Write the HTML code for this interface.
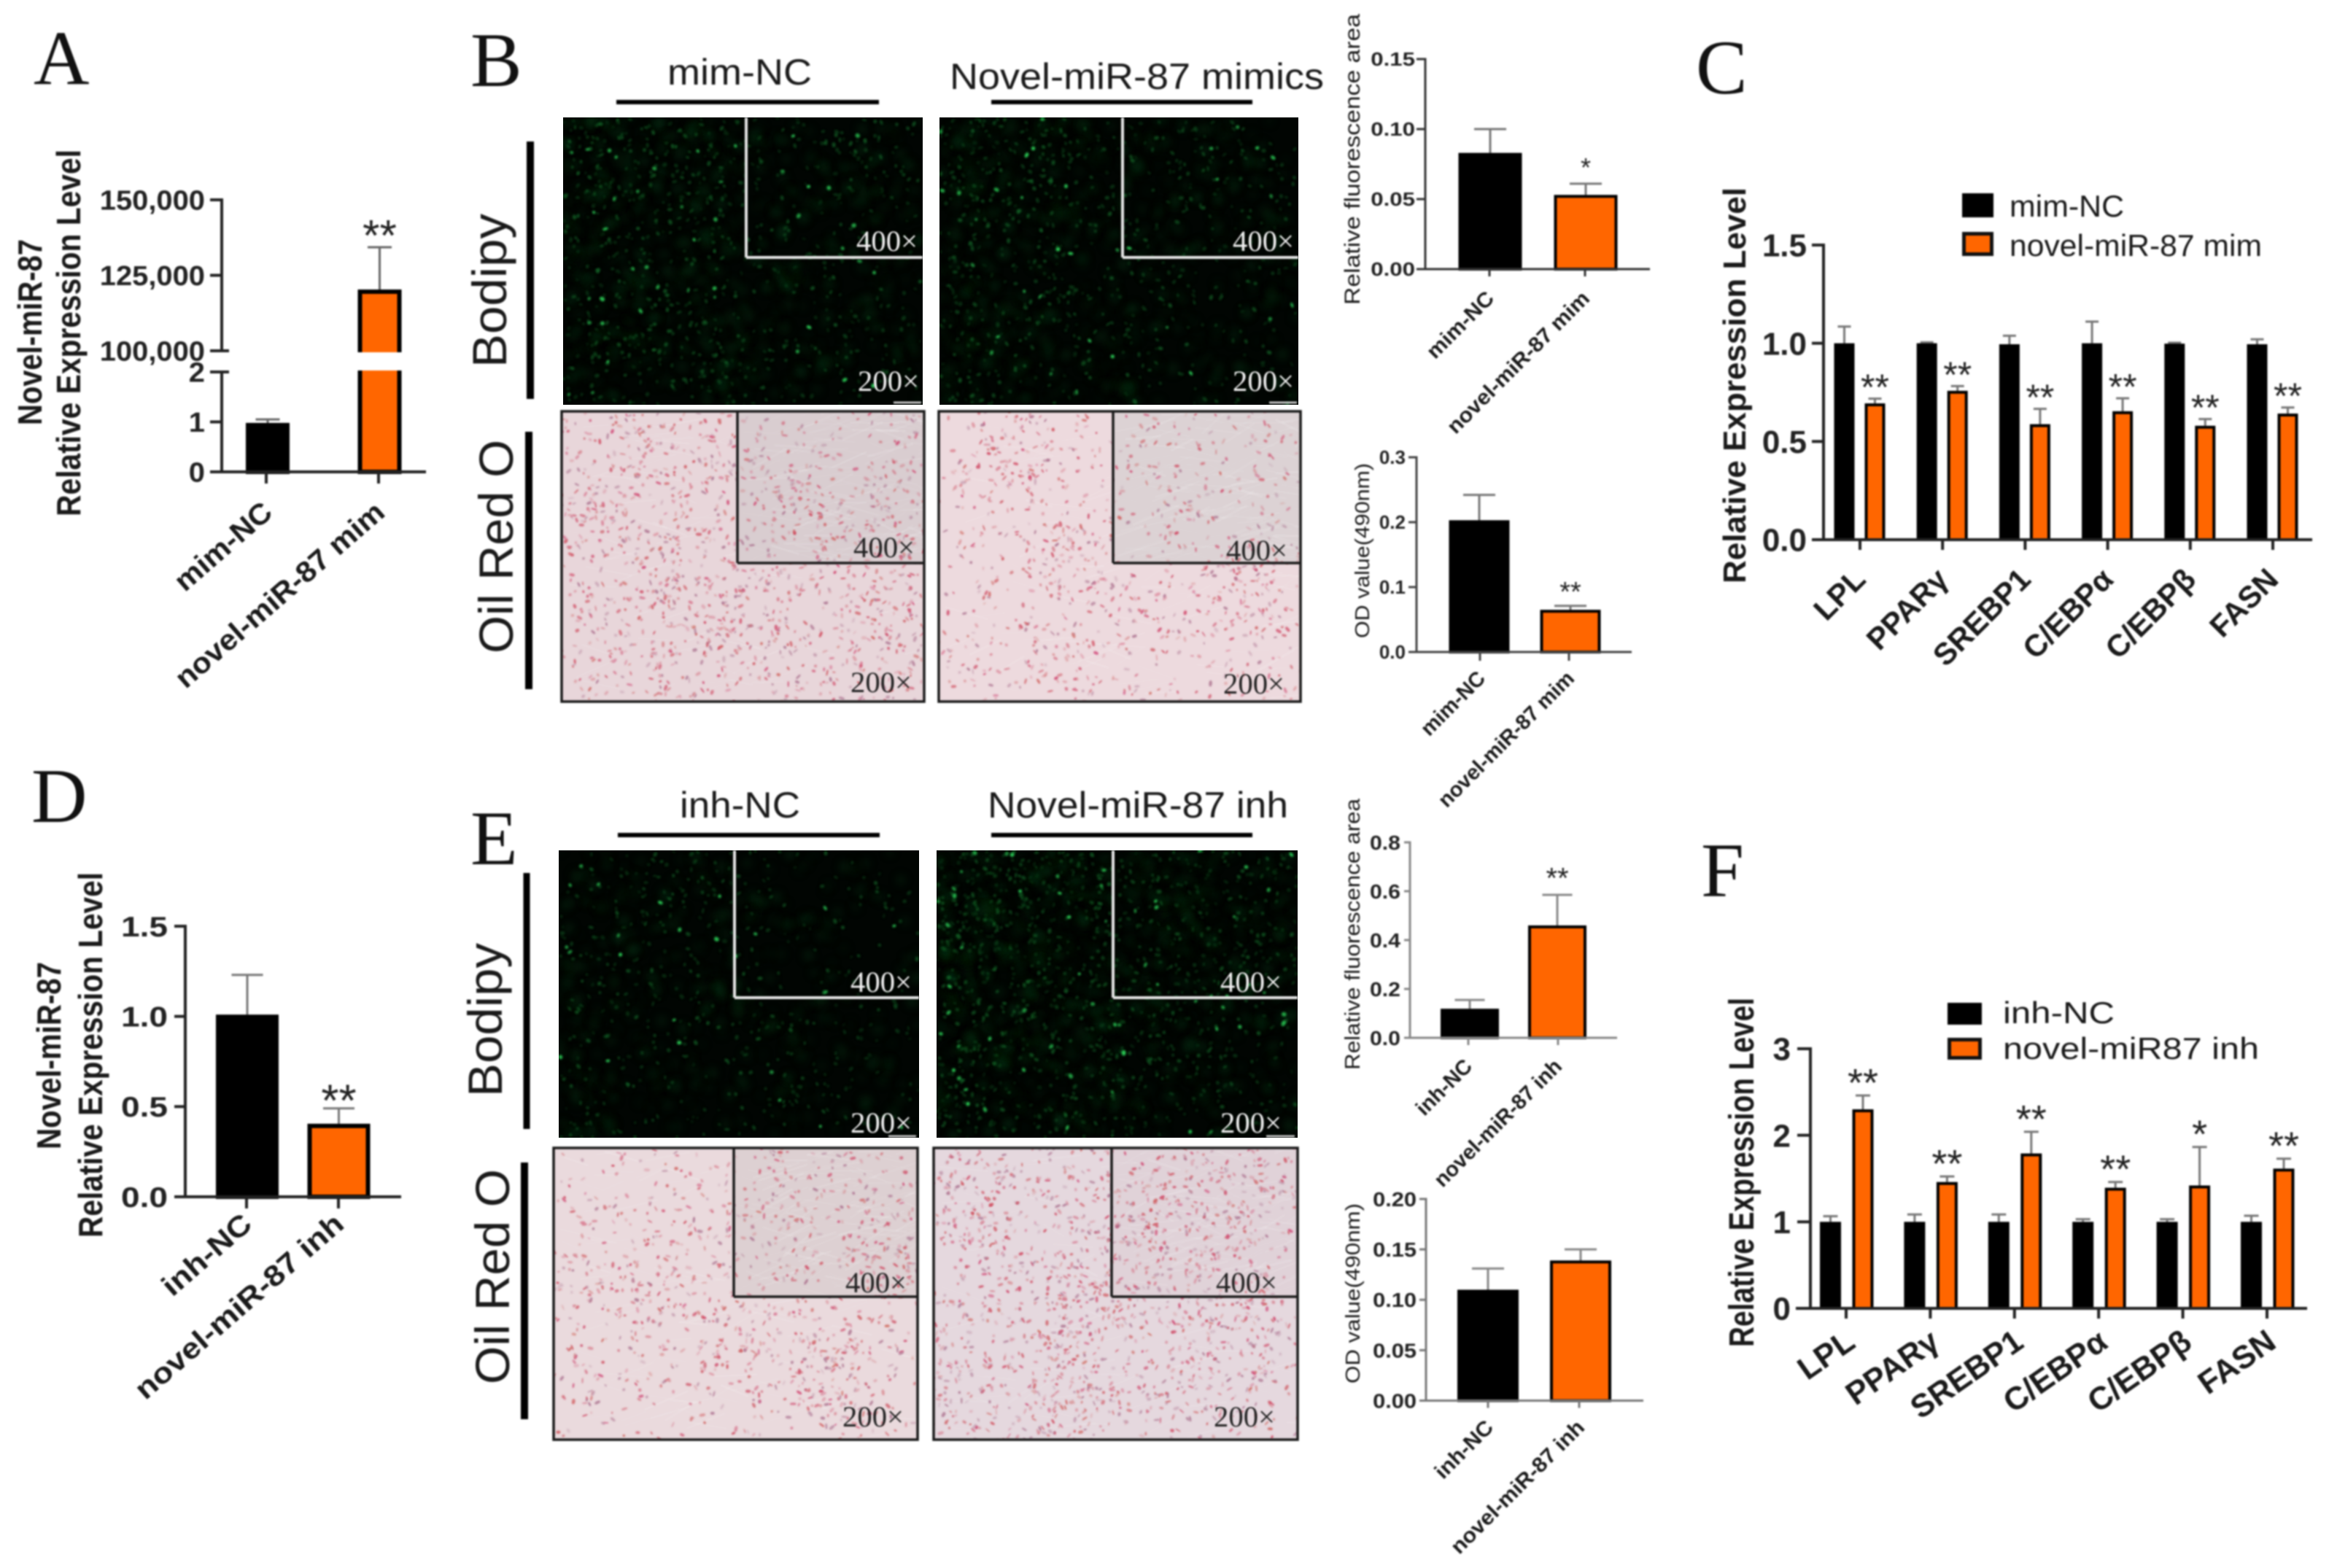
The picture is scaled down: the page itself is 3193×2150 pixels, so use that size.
<!DOCTYPE html>
<html lang="en">
<head>
<meta charset="utf-8">
<title>Novel-miR-87 figure</title>
<style>
html,body{margin:0;padding:0;background:#fff;}
#stage{position:relative;width:3193px;height:2150px;overflow:hidden;background:#fff;}
canvas{position:absolute;display:block;}
#overlay{position:absolute;left:0;top:0;filter:blur(1px);}
text{font-family:"Liberation Sans",sans-serif;}
</style>
</head>
<body>
<div id="stage">
<canvas class="photo" data-kind="green" data-seed="11" data-fade="0.75" data-glow="1" width="493" height="394" style="left:772px;top:161px"></canvas>
<canvas class="photo" data-kind="green" data-seed="12" data-fade="0.2" data-glow="0.75" width="242" height="192" style="left:1023px;top:161px"></canvas>
<canvas class="photo" data-kind="green" data-seed="13" data-fade="0.8" data-glow="0.85" width="492" height="394" style="left:1288px;top:161px"></canvas>
<canvas class="photo" data-kind="green" data-seed="14" data-fade="0.2" data-glow="0.7" width="241" height="192" style="left:1539px;top:161px"></canvas>
<canvas class="photo" data-kind="oil" data-seed="15" data-fill="#e8d6da" data-count="1500" width="497" height="398" style="left:770px;top:564px"></canvas>
<canvas class="photo" data-kind="oil" data-seed="16" data-fill="#d9cdd0" data-count="360" width="256" height="208" style="left:1011px;top:564px"></canvas>
<canvas class="photo" data-kind="oil" data-seed="17" data-fill="#eddade" data-count="1000" width="496" height="398" style="left:1287px;top:564px"></canvas>
<canvas class="photo" data-kind="oil" data-seed="18" data-fill="#dcd2d4" data-count="240" width="257" height="208" style="left:1526px;top:564px"></canvas>
<canvas class="photo" data-kind="green" data-seed="19" data-fade="0.55" data-glow="0.65" width="494" height="394" style="left:766px;top:1166px"></canvas>
<canvas class="photo" data-kind="green" data-seed="20" data-fade="0.1" data-glow="0.4" width="253" height="202" style="left:1007px;top:1166px"></canvas>
<canvas class="photo" data-kind="green" data-seed="21" data-fade="0.85" data-glow="1.3" width="495" height="394" style="left:1284px;top:1166px"></canvas>
<canvas class="photo" data-kind="green" data-seed="22" data-fade="0.2" data-glow="1.2" width="253" height="202" style="left:1526px;top:1166px"></canvas>
<canvas class="photo" data-kind="oil" data-seed="23" data-fill="#eadadd" data-count="1050" width="499" height="400" style="left:759px;top:1574px"></canvas>
<canvas class="photo" data-kind="oil" data-seed="24" data-fill="#ddd0d2" data-count="320" width="252" height="204" style="left:1006px;top:1574px"></canvas>
<canvas class="photo" data-kind="oil" data-seed="25" data-fill="#e5d8de" data-count="1750" width="499" height="400" style="left:1280px;top:1574px"></canvas>
<canvas class="photo" data-kind="oil" data-seed="26" data-fill="#e0d2d8" data-count="480" width="255" height="204" style="left:1524px;top:1574px"></canvas>
<svg id="overlay" width="3193" height="2150" viewBox="0 0 3193 2150"></svg>
</div>
<script>
/* ---------- Panel A ---------- */
const aCategories = ['mim-NC', 'novel-miR-87 mim'];
const aValues = [0.98, 120300];
const aErrors = [0.07, 14000];
const aStars = ['', '**'];
const aTicks = [0, 1, 2, 100000, 125000, 150000];
const aTickLabels = ['0', '1', '2', '100,000', '125,000', '150,000'];
/* ---------- Panel D ---------- */
const dCategories = ['inh-NC', 'novel-miR-87 inh'];
const dValues = [1.01, 0.405];
const dErrors = [0.22, 0.085];
const dStars = ['', '**'];
const dTicks = [0, 0.5, 1, 1.5];
const dTickLabels = ['0.0', '0.5', '1.0', '1.5'];
/* ---------- Panel B, fluorescence ---------- */
const bFluorCategories = ['mim-NC', 'novel-miR-87 mim'];
const bFluorValues = [0.083, 0.053];
const bFluorErrors = [0.017, 0.008];
const bFluorStars = ['', '*'];
const bFluorTicks = [0, 0.05, 0.1, 0.15];
const bFluorTickLabels = ['0.00', '0.05', '0.10', '0.15'];
/* ---------- Panel B, OD ---------- */
const bOdCategories = ['mim-NC', 'novel-miR-87 mim'];
const bOdValues = [0.203, 0.065];
const bOdErrors = [0.039, 0.006];
const bOdStars = ['', '**'];
const bOdTicks = [0, 0.1, 0.2, 0.3];
const bOdTickLabels = ['0.0', '0.1', '0.2', '0.3'];
/* ---------- Panel E, fluorescence ---------- */
const eFluorCategories = ['inh-NC', 'novel-miR-87 inh'];
const eFluorValues = [0.119, 0.46];
const eFluorErrors = [0.036, 0.125];
const eFluorStars = ['', '**'];
const eFluorTicks = [0, 0.2, 0.4, 0.6, 0.8];
const eFluorTickLabels = ['0.0', '0.2', '0.4', '0.6', '0.8'];
/* ---------- Panel E, OD ---------- */
const eOdCategories = ['inh-NC', 'novel-miR-87 inh'];
const eOdValues = [0.11, 0.139];
const eOdErrors = [0.021, 0.011];
const eOdStars = ['', ''];
const eOdTicks = [0, 0.05, 0.1, 0.15, 0.2];
const eOdTickLabels = ['0.00', '0.05', '0.10', '0.15', '0.20'];
/* ---------- Panel C ---------- */
const cGenes = ['LPL', 'PPARγ', 'SREBP1', 'C/EBPα', 'C/EBPβ', 'FASN'];
const cControl = [1.0, 1.0, 0.995, 1.0, 0.998, 0.995];
const cControlErr = [0.085, 0.005, 0.043, 0.11, 0.005, 0.025];
const cTreated = [0.694, 0.758, 0.588, 0.654, 0.58, 0.642];
const cTreatedErr = [0.024, 0.024, 0.078, 0.066, 0.034, 0.031];
const cStars = ['**', '**', '**', '**', '**', '**'];
const cTicks = [0, 0.5, 1, 1.5];
const cTickLabels = ['0.0', '0.5', '1.0', '1.5'];
const cSeriesNames = ['mim-NC', 'novel-miR-87 mim'];
/* ---------- Panel F ---------- */
const fGenes = ['LPL', 'PPARγ', 'SREBP1', 'C/EBPα', 'C/EBPβ', 'FASN'];
const fControl = [1, 1, 1, 1, 1, 1];
const fControlErr = [0.065, 0.085, 0.085, 0.03, 0.03, 0.07];
const fTreated = [2.3, 1.46, 1.79, 1.394, 1.42, 1.615];
const fTreatedErr = [0.16, 0.064, 0.25, 0.066, 0.444, 0.115];
const fStars = ['**', '**', '**', '**', '*', '**'];
const fTicks = [0, 1, 2, 3];
const fTickLabels = ['0', '1', '2', '3'];
const fSeriesNames = ['inh-NC', 'novel-miR87 inh'];

const SVGNS = 'http://www.w3.org/2000/svg';
const overlay = document.getElementById('overlay');
const ORANGE = '#ff6600';

function shape(parent, tag, attrs) {
  const el = document.createElementNS(SVGNS, tag);
  for (const k in attrs) el.setAttribute(k, attrs[k]);
  parent.appendChild(el);
  return el;
}
function line(parent, x1, y1, x2, y2, color, w) {
  return shape(parent, 'line', {x1: x1, y1: y1, x2: x2, y2: y2, stroke: color, 'stroke-width': w});
}
function label(parent, str, x, y, o) {
  o = o || {};
  const rot = o.rot || 0, sx = o.sx || 1;
  const attrs = {
    transform: 'translate(' + x + ' ' + y + ') rotate(' + rot + ') scale(' + sx + ' 1)',
    'font-size': o.size || 30,
    fill: o.fill || '#111',
    'text-anchor': o.anchor || 'start'
  };
  if (o.bold) attrs['font-weight'] = 'bold';
  if (o.italic) attrs['font-style'] = 'italic';
  if (o.serif) attrs['style'] = 'font-family:"Liberation Serif",serif';
  if (o.len) { attrs.textLength = o.len; attrs.lengthAdjust = 'spacingAndGlyphs'; }
  const el = shape(parent, 'text', attrs);
  el.textContent = str;
  return el;
}
function linearY(v0, p0, v1, p1) {
  return function (v) { return p0 + (v - v0) * (p1 - p0) / (v1 - v0); };
}
function catX(first, step) {
  return function (i) { return first + i * step; };
}
function drawYAxis(g, c) {
  const segs = c.segments || [[c.ticks[0], c.ticks[c.ticks.length - 1]]];
  segs.forEach(function (s) {
    const axis = line(g, c.axisX, c.y(s[0]) + c.axisW / 2, c.axisX, c.y(s[1]) - c.axisW / 2, c.axisColor, c.axisW);
    
    
  });
  c.ticks.forEach(function (t, i) {
    const tick = line(g, c.axisX - c.tickLen, c.y(t), c.axisX, c.y(t), c.axisColor, c.axisW);
    
    
    const tl = label(g, c.tickLabels[i], c.labelX, c.y(t) + c.tickSize * 0.355, {size: c.tickSize, sx: c.tickSx, bold: true, anchor: 'end', fill: '#222'});
    
    
  });
}
function drawXAxis(g, c) {
  const base = c.y(0);
  const axis = line(g, c.axisLeft, base, c.axisRight, base, c.axisColor, c.axisW);
  
  
  c.cats.forEach(function (cat, i) {
    const x = c.x(i);
    const tick = line(g, x, base, x, base + c.xTick, c.axisColor, c.axisW);
    
    
    const tl = label(g, cat, x + c.catDx, c.catY, {size: c.catSize, sx: c.catSx, bold: true, anchor: 'end', rot: c.catRot, fill: '#1a1a1a'});
    
    
  });
}
function drawBar(g, c, cx, w, value, err, fill, starText) {
  const base = c.y(0), top = c.y(value), errTop = c.y(value + err);
  const stem = line(g, cx, top, cx, errTop, c.errColor, c.errW);
  
  
  const cap = line(g, cx - c.capW / 2, errTop, cx + c.capW / 2, errTop, c.errColor, c.errW);
  
  
  const sw = c.barStroke;
  const bar = shape(g, 'rect', {x: cx - w / 2 + sw / 2, y: top + sw / 2, width: w - sw, height: Math.max(0, base - top - sw / 2), fill: fill, stroke: '#000', 'stroke-width': sw});
  
  
  if (starText) {
    const cy = errTop - c.starGap;
    const st = label(g, starText, cx, cy + c.starSize * 0.59, {size: c.starSize, anchor: 'middle', fill: '#222'});
    
    
  }
}
function drawTitle(g, str, x, y0, y1, o) {
  const t = label(g, str, x, (y0 + y1) / 2, Object.assign({rot: -90, anchor: 'middle', len: y1 - y0, fill: '#1a1a1a'}, o));
  
  
}
function simpleChart(c) {
  const g = shape(overlay, 'g', {});
  
  
  c.cats.forEach(function (cat, i) {
    drawBar(g, c, c.barX(i), c.barW, c.vals[i], c.errs[i], i === 0 ? '#000' : ORANGE, c.stars[i]);
  });
  drawYAxis(g, c);
  drawXAxis(g, c);
  return g;
}
function groupedChart(c) {
  const g = shape(overlay, 'g', {});
  
  
  c.cats.forEach(function (cat, i) {
    drawBar(g, c, c.x(i) + c.offA, c.barW, c.control[i], c.controlErr[i], '#000', '');
    drawBar(g, c, c.x(i) + c.offB, c.barW, c.treated[i], c.treatedErr[i], ORANGE, c.stars[i]);
  });
  drawYAxis(g, c);
  drawXAxis(g, c);
  return g;
}
function legend(names, x, y0, y1, w, h, textX, base0, base1, len0, len1, size) {
  const g = shape(overlay, 'g', {});
  
  
  const k0 = shape(g, 'rect', {x: x, y: y0, width: w, height: h, fill: '#000'});
  
  
  const k1 = shape(g, 'rect', {x: x + 2.5, y: y1 + 2.5, width: w - 5, height: h - 5, fill: ORANGE, stroke: '#111', 'stroke-width': 5});
  
  
  const t0 = label(g, names[0], textX, base0, {size: size, len: len0, fill: '#1a1a1a'});
  
  
  const t1 = label(g, names[1], textX, base1, {size: size, len: len1, fill: '#1a1a1a'});
  
  
}

/* ---------- photo frames and annotations ---------- */
function insetFrame(x0, y0, x1, insetX, insetY, y1, color, w, full) {
  const g = shape(overlay, 'g', {});
  
  
  if (full) shape(g, 'rect', {x: x0, y: y0, width: x1 - x0, height: y1 - y0, fill: 'none', stroke: color, 'stroke-width': w});
  line(g, insetX, y0, insetX, insetY, color, w);
  line(g, insetX, insetY, x1, insetY, color, w);
}
function magLabel(str, x, y, color) {
  const t = label(overlay, str, x, y, {size: 40, serif: true, fill: color, len: 84});
  
  
}
function heading(str, x, y, len) {
  const t = label(overlay, str, x, y, {size: 50, len: len, fill: '#1a1a1a'});
  
  
}
function rule(x1, y1, x2, y2, w) {
  const r = line(overlay, x1, y1, x2, y2, '#000', w);
  
  
}
function scaleBar(x1, x2, y) {
  const s = line(overlay, x1, y, x2, y, '#c4c4c4', 3);
  
  
}
function sideLabel(str, x, y0, y1) {
  const t = label(overlay, str, x, (y0 + y1) / 2, {size: 66, rot: -90, anchor: 'middle', len: y1 - y0, fill: '#1a1a1a'});
  
  
}
function panelLetter(str, x, y) {
  const t = label(overlay, str, x, y, {size: 106, serif: true, fill: '#111'});
  
  
}

panelLetter('A', 46, 115);
panelLetter('B', 645, 118);
panelLetter('C', 2325, 128);
panelLetter('D', 43, 1127);
panelLetter('E', 645, 1185);
panelLetter('F', 2332, 1229);

heading('mim-NC', 915, 116, 198);
heading('Novel-miR-87 mimics', 1302, 122, 513);
heading('inh-NC', 932, 1121, 165);
heading('Novel-miR-87 inh', 1354, 1121, 412);
rule(845, 140, 1205, 140, 6);
rule(1359, 140, 1717, 140, 6);
rule(847, 1145, 1206, 1145, 6);
rule(1359, 1145, 1717, 1145, 6);

sideLabel('Bodipy', 694, 293, 504);
sideLabel('Oil Red O', 703, 603, 896);
sideLabel('Bodipy', 688, 1293, 1504);
sideLabel('Oil Red O', 698, 1603, 1898);
rule(727, 194, 727, 547, 10);
rule(725, 592, 725, 945, 10);
rule(722, 1197, 722, 1548, 9);
rule(719, 1594, 719, 1946, 10);

insetFrame(772, 161, 1265, 1023, 353, 555, '#e6e6e6', 4, false);
insetFrame(1288, 161, 1780, 1539, 353, 555, '#e6e6e6', 4, false);
insetFrame(770, 564, 1267, 1011, 772, 962, '#1a1a1a', 3.5, true);
insetFrame(1287, 564, 1783, 1526, 772, 962, '#1a1a1a', 3.5, true);
insetFrame(766, 1166, 1260, 1007, 1368, 1560, '#e6e6e6', 4, false);
insetFrame(1284, 1166, 1779, 1526, 1368, 1560, '#e6e6e6', 4, false);
insetFrame(759, 1574, 1258, 1006, 1778, 1974, '#1a1a1a', 3.5, true);
insetFrame(1280, 1574, 1779, 1524, 1778, 1974, '#1a1a1a', 3.5, true);

scaleBar(1225, 1263, 552);
scaleBar(1740, 1778, 552);
scaleBar(1218, 1256, 1558);
scaleBar(1736, 1775, 1558);

magLabel('400×', 1174, 344, '#f2f2f2');
magLabel('200×', 1176, 536, '#f2f2f2');
magLabel('400×', 1690, 344, '#f2f2f2');
magLabel('200×', 1690, 536, '#f2f2f2');
magLabel('400×', 1170, 764, '#222');
magLabel('200×', 1166, 949, '#222');
magLabel('400×', 1681, 768, '#222');
magLabel('200×', 1677, 951, '#222');
magLabel('400×', 1166, 1360, '#f2f2f2');
magLabel('200×', 1166, 1553, '#f2f2f2');
magLabel('400×', 1673, 1360, '#f2f2f2');
magLabel('200×', 1673, 1553, '#f2f2f2');
magLabel('400×', 1159, 1772, '#222');
magLabel('200×', 1155, 1956, '#222');
magLabel('400×', 1667, 1772, '#222');
magLabel('200×', 1664, 1956, '#222');

/* ---------- charts ---------- */
const yA_low = linearY(0, 647, 2, 510);
const yA_high = linearY(100000, 481, 150000, 274);
function yA(v) { return v <= 2 ? yA_low(v) : yA_high(v); }
const gA = simpleChart({
  name: 'panel-a-chart', cats: aCategories, vals: aValues, errs: aErrors, stars: aStars,
  ticks: aTicks, tickLabels: aTickLabels, y: yA, segments: [[0, 2], [100000, 150000]],
  axisX: 304, axisLeft: 288, axisRight: 584, axisW: 4, axisColor: '#222', tickLen: 16, xTick: 16,
  labelX: 281, tickSize: 38, tickSx: 1.05, x: catX(365, 154), barX: catX(367, 153.5), barW: 60,
  barStroke: 6, errColor: '#666', errW: 3, capW: 33, starGap: 31, starSize: 60,
  catDx: 11, catY: 706, catSize: 40, catSx: 1.06, catRot: -41
});
const breakGap = shape(gA, 'rect', {x: 480, y: 483, width: 80, height: 25, fill: '#fff'});


const breakTickHigh = line(gA, 304, 481, 314, 481, '#222', 4);


const breakTickLow = line(gA, 304, 510, 314, 510, '#222', 4);


drawTitle(overlay, 'Novel-miR-87', 57, 328, 583, {size: 46, bold: true});
drawTitle(overlay, 'Relative Expression Level', 110, 205, 708, {size: 46, bold: true});

simpleChart({
  name: 'panel-d-chart', cats: dCategories, vals: dValues, errs: dErrors, stars: dStars,
  ticks: dTicks, tickLabels: dTickLabels, y: linearY(0, 1641, 1.5, 1270),
  axisX: 254, axisLeft: 239, axisRight: 550, axisW: 4, axisColor: '#222', tickLen: 15, xTick: 16,
  labelX: 230, tickSize: 39, tickSx: 1.18, x: catX(338, 126), barX: catX(339, 125.5), barW: 86,
  barStroke: 6, errColor: '#777', errW: 3, capW: 43, starGap: 26, starSize: 62,
  catDx: 10, catY: 1682, catSize: 40, catSx: 1.13, catRot: -41
});
drawTitle(overlay, 'Novel-miR-87', 83, 1319, 1576, {size: 46, bold: true});
drawTitle(overlay, 'Relative Expression Level', 140, 1196, 1697, {size: 46, bold: true});

simpleChart({
  name: 'panel-b-fluorescence-chart', cats: bFluorCategories, vals: bFluorValues, errs: bFluorErrors, stars: bFluorStars,
  ticks: bFluorTicks, tickLabels: bFluorTickLabels, y: linearY(0, 369, 0.15, 81),
  axisX: 1954, axisLeft: 1942, axisRight: 2262, axisW: 3, axisColor: '#333', tickLen: 12, xTick: 10,
  labelX: 1940, tickSize: 26, tickSx: 1.2, x: catX(2042, 131), barX: catX(2043, 131), barW: 87,
  barStroke: 4, errColor: '#777', errW: 3, capW: 44, starGap: 31, starSize: 36,
  catDx: 8, catY: 411, catSize: 29, catSx: 1.05, catRot: -45
});
drawTitle(overlay, 'Relative fluorescence area', 1864, 19, 418, {size: 30});

simpleChart({
  name: 'panel-b-od-chart', cats: bOdCategories, vals: bOdValues, errs: bOdErrors, stars: bOdStars,
  ticks: bOdTicks, tickLabels: bOdTickLabels, y: linearY(0, 894, 0.3, 627),
  axisX: 1942, axisLeft: 1931, axisRight: 2237, axisW: 3, axisColor: '#444', tickLen: 11, xTick: 12,
  labelX: 1927, tickSize: 26, tickSx: 1, x: catX(2029, 122), barX: catX(2028, 125), barW: 83,
  barStroke: 4, errColor: '#777', errW: 3, capW: 44, starGap: 29, starSize: 38,
  catDx: 9, catY: 932, catSize: 29, catSx: 1.0, catRot: -45
});
drawTitle(overlay, 'OD value(490nm)', 1877, 635, 875, {size: 28});

simpleChart({
  name: 'panel-e-fluorescence-chart', cats: eFluorCategories, vals: eFluorValues, errs: eFluorErrors, stars: eFluorStars,
  ticks: eFluorTicks, tickLabels: eFluorTickLabels, y: linearY(0, 1423, 0.8, 1155),
  axisX: 1933, axisLeft: 1925, axisRight: 2217, axisW: 3, axisColor: '#888', tickLen: 8, xTick: 10,
  labelX: 1920, tickSize: 28, tickSx: 1.08, x: catX(2013, 123), barX: catX(2015, 120), barW: 80,
  barStroke: 4, errColor: '#888', errW: 3, capW: 41, starGap: 33, starSize: 40,
  catDx: 7, catY: 1464, catSize: 29, catSx: 1.0, catRot: -45
});
drawTitle(overlay, 'Relative fluorescence area', 1864, 1095, 1467, {size: 29});

simpleChart({
  name: 'panel-e-od-chart', cats: eOdCategories, vals: eOdValues, errs: eOdErrors, stars: eOdStars,
  ticks: eOdTicks, tickLabels: eOdTickLabels, y: linearY(0, 1920.5, 0.2, 1644),
  axisX: 1955, axisLeft: 1946, axisRight: 2253, axisW: 3, axisColor: '#777', tickLen: 9, xTick: 10,
  labelX: 1942, tickSize: 28, tickSx: 1.1, x: catX(2040, 125), barX: catX(2040, 127), barW: 84,
  barStroke: 4, errColor: '#888', errW: 3, capW: 44, starGap: 20, starSize: 38,
  catDx: 9, catY: 1959, catSize: 29, catSx: 1.05, catRot: -45
});
drawTitle(overlay, 'OD value(490nm)', 1864, 1650, 1897, {size: 28});

groupedChart({
  name: 'panel-c-chart', cats: cGenes, control: cControl, controlErr: cControlErr,
  treated: cTreated, treatedErr: cTreatedErr, stars: cStars,
  ticks: cTicks, tickLabels: cTickLabels, y: linearY(0, 740, 1.5, 336),
  axisX: 2500, axisLeft: 2484, axisRight: 3170, axisW: 4, axisColor: '#222', tickLen: 16, xTick: 14,
  labelX: 2477, tickSize: 44, tickSx: 1, x: catX(2550, 113.2), offA: -21.5, offB: 20.5, barW: 28,
  barStroke: 4, errColor: '#777', errW: 3, capW: 18, starGap: 28, starSize: 50,
  catDx: 10, catY: 797, catSize: 42, catSx: 1, catRot: -45
});
drawTitle(overlay, 'Relative Expression Level', 2393, 257, 800, {size: 44, bold: true});
legend(cSeriesNames, 2690, 265, 318, 43, 33, 2755, 297, 351, 157, 346, 42);

groupedChart({
  name: 'panel-f-chart', cats: fGenes, control: fControl, controlErr: fControlErr,
  treated: fTreated, treatedErr: fTreatedErr, stars: fStars,
  ticks: fTicks, tickLabels: fTickLabels, y: linearY(0, 1794, 3, 1438),
  axisX: 2482, axisLeft: 2462, axisRight: 3163, axisW: 4, axisColor: '#222', tickLen: 18, xTick: 14,
  labelX: 2455, tickSize: 44, tickSx: 1, x: catX(2531, 115.4), offA: -21.5, offB: 23, barW: 29,
  barStroke: 4, errColor: '#777', errW: 3, capW: 20, starGap: 31, starSize: 54,
  catDx: 15, catY: 1846, catSize: 44, catSx: 1, catRot: -35
});
drawTitle(overlay, 'Relative Expression Level', 2404, 1368, 1847, {size: 48, bold: true});
legend(fSeriesNames, 2670, 1375, 1423, 47, 30, 2746, 1403, 1452, 153, 351, 42);

/* ---------- micrograph textures (seeded procedural noise, not chart data) ---------- */
function rng(seed) {
  let s = seed * 2654435761 >>> 0;
  return function () {
    s = (s + 0x6D2B79F5) >>> 0;
    let t = s;
    t = Math.imul(t ^ (t >>> 15), t | 1);
    t ^= t + Math.imul(t ^ (t >>> 7), t | 61);
    return ((t ^ (t >>> 14)) >>> 0) / 4294967296;
  };
}
function paintGreen(cv) {
  const ctx = cv.getContext('2d'), w = cv.width, h = cv.height;
  const r = rng(+cv.dataset.seed), fade = +cv.dataset.fade, glow = +cv.dataset.glow;
  ctx.fillStyle = '#010502';
  ctx.fillRect(0, 0, w, h);
  function pick() {
    for (let k = 0; k < 30; k++) {
      const u = r(), v = r();
      if (r() < 1 - fade * (u * 0.6 + v * 0.4)) return [u * w, v * h];
    }
    return [r() * w, r() * h];
  }
  ctx.filter = 'blur(6px)';
  const hazeCount = Math.round(w * h / 300 * glow);
  for (let i = 0; i < hazeCount; i++) {
    const p = pick();
    ctx.fillStyle = 'rgba(15,80,35,' + (0.10 + r() * 0.25) + ')';
    ctx.beginPath();
    ctx.arc(p[0], p[1], 3 + r() * 5, 0, 7);
    ctx.fill();
  }
  ctx.filter = 'blur(1.6px)';
  const speckCount = Math.round(w * h / 260 * glow);
  for (let i = 0; i < speckCount; i++) {
    const p = pick();
    ctx.fillStyle = 'rgba(25,125,50,' + (0.2 + r() * 0.4) + ')';
    ctx.beginPath();
    ctx.ellipse(p[0], p[1], 1.5 + r() * 2.2, 1.2 + r() * 1.4, r() * 3.14, 0, 7);
    ctx.fill();
  }
  const brightCount = Math.round(w * h / 4500 * glow);
  for (let i = 0; i < brightCount; i++) {
    const p = pick();
    ctx.fillStyle = 'rgba(45,215,90,' + (0.6 + r() * 0.35) + ')';
    ctx.beginPath();
    ctx.ellipse(p[0], p[1], 1.8 + r() * 2, 1.6 + r() * 1.4, r() * 3.14, 0, 7);
    ctx.fill();
  }
  ctx.filter = 'none';
}
function paintOil(cv) {
  const ctx = cv.getContext('2d'), w = cv.width, h = cv.height;
  const r = rng(+cv.dataset.seed), count = +cv.dataset.count;
  ctx.fillStyle = cv.dataset.fill;
  ctx.fillRect(0, 0, w, h);
  ctx.filter = 'blur(1.2px)';
  for (let i = 0; i < 160; i++) {
    const x = r() * w, y = r() * h;
    ctx.strokeStyle = 'rgba(255,255,255,' + (0.05 + r() * 0.12) + ')';
    ctx.lineWidth = 1 + r() * 2;
    ctx.beginPath();
    ctx.moveTo(x, y);
    ctx.lineTo(x + 30 + r() * 40, y + 20 - r() * 50);
    ctx.stroke();
  }
  let cx = r() * w, cy = r() * h;
  for (let i = 0; i < count; i++) {
    if (r() < 0.1) { cx = r() * w; cy = r() * h; }
    const near = r() < 0.6;
    const x = near ? cx + (r() - 0.5) * 110 : r() * w;
    const y = near ? cy + (r() - 0.5) * 110 : r() * h;
    const tint = r() < 0.25 ? 'rgba(170,110,140,' : 'rgba(208,' + Math.round(60 + r() * 40) + ',' + Math.round(85 + r() * 30) + ',';
    ctx.fillStyle = tint + (0.2 + r() * 0.6) + ')';
    ctx.beginPath();
    ctx.ellipse(x, y, 1.5 + r() * 2.8, 1 + r() * 1.3, r() * 3.14, 0, 7);
    ctx.fill();
  }
  ctx.filter = 'none';
}
document.querySelectorAll('canvas.photo').forEach(function (cv) {
  if (cv.dataset.kind === 'green') paintGreen(cv); else paintOil(cv);
});
</script>
</body>
</html>
